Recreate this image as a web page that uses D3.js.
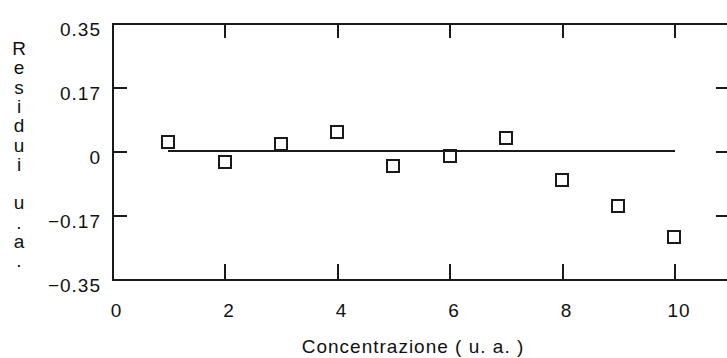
<!DOCTYPE html>
<html>
<head>
<meta charset="utf-8">
<script src="https://cdn.jsdelivr.net/npm/d3@7"></script>
<style>
  body { margin: 0; background: #fff; }
  svg { display: block; font-family: "Liberation Sans", Arial, sans-serif; }
</style>
</head>
<body>
<div class="chart"></div>
<script>
// data
var concentrazione = [1, 2, 3, 4, 5, 6, 7, 8, 9, 10];
var residui = [0.025, -0.030, 0.019, 0.053, -0.041, -0.014, 0.036, -0.079, -0.150, -0.234];
var fitX = [1, 10];
var fitY = [0, 0];
var xTicks = [0, 2, 4, 6, 8, 10];
var yTicks = [-0.35, -0.175, 0, 0.175, 0.35];
var yTickLabels = ["\u22120.35", "\u22120.17", "0", "0.17", "0.35"];
var xTitle = "Concentrazione ( u. a. )";
var yTitle = "Residui u.a.";

var width = 727, height = 358;

var svg = d3.select(".chart")
  .append("svg")
    .attr("width", width)
    .attr("height", height);

var x = d3.scaleLinear().domain([0, 11]).range([112, 730.75]);
var y = d3.scaleLinear().domain([-0.35, 0.35]).range([279, 23]);

function styleAxis(g) {
  g.selectAll("path, line")
    .attr("stroke", "#1a1a1a")
    .attr("stroke-width", 2)
    .attr("shape-rendering", "crispEdges");
}

function styleText(sel) {
  sel.attr("fill", "#111")
    .attr("font-size", "19px")
    .attr("letter-spacing", "1px")
    .attr("font-family", "Liberation Sans, Arial, sans-serif");
}

// top frame
svg.append("g")
  .attr("transform", "translate(0," + y(0.35) + ")")
  .call(d3.axisBottom(x).tickValues(xTicks.slice(1)).tickSizeInner(15).tickSizeOuter(0).tickFormat(""))
  .call(styleAxis);

// right frame
svg.append("g")
  .attr("transform", "translate(" + x(11) + ",0)")
  .call(d3.axisLeft(y).tickValues(yTicks.slice(1, 4)).tickSizeInner(15).tickSizeOuter(0).tickFormat(""))
  .call(styleAxis);

// bottom axis
var gx = svg.append("g")
  .attr("transform", "translate(0," + y(-0.35) + ")")
  .call(d3.axisBottom(x).tickValues(xTicks).tickSizeInner(-15).tickSizeOuter(0).tickFormat(d3.format("d")))
  .call(styleAxis);
gx.selectAll("text")
  .attr("y", 38)
  .attr("dy", 0)
  .attr("dx", 4)
  .call(styleText);

// left axis
var gy = svg.append("g")
  .attr("transform", "translate(" + x(0) + ",0)")
  .call(d3.axisLeft(y).tickValues(yTicks).tickSizeInner(-15).tickSizeOuter(0)
    .tickFormat(function (d, i) { return yTickLabels[i]; }))
  .call(styleAxis);
gy.selectAll("text")
  .attr("x", -11)
  .attr("dy", 12)
  .call(styleText);

// fitted line
var line = d3.line()
  .x(function (d) { return x(d[0]); })
  .y(function (d) { return y(d[1]); });

svg.append("path")
  .datum(d3.zip(fitX, fitY))
  .attr("d", line)
  .attr("fill", "none")
  .attr("stroke", "#1a1a1a")
  .attr("stroke-width", 2)
  .attr("shape-rendering", "crispEdges");

// residual squares
var sq = 12;
svg.append("g")
  .selectAll("rect")
  .data(d3.zip(concentrazione, residui))
  .enter()
  .append("rect")
    .attr("x", function (d) { return Math.round(x(d[0]) - sq / 2); })
    .attr("y", function (d) { return Math.round(y(d[1]) - sq / 2); })
    .attr("width", sq)
    .attr("height", sq)
    .attr("fill", "none")
    .attr("stroke", "#1a1a1a")
    .attr("stroke-width", 2)
    .attr("shape-rendering", "crispEdges");

// x title
svg.append("text")
  .attr("x", 413)
  .attr("y", 353)
  .attr("text-anchor", "middle")
  .call(styleText)
  .text(xTitle);

// y title, letters stacked
svg.append("g")
  .selectAll("text")
  .data(yTitle.split(""))
  .enter()
  .append("text")
    .attr("x", 19)
    .attr("y", function (d, i) { return 55 + i * 19.3; })
    .attr("text-anchor", "middle")
    .call(styleText)
    .attr("letter-spacing", null)
    .text(function (d) { return d; });
</script>
</body>
</html>
